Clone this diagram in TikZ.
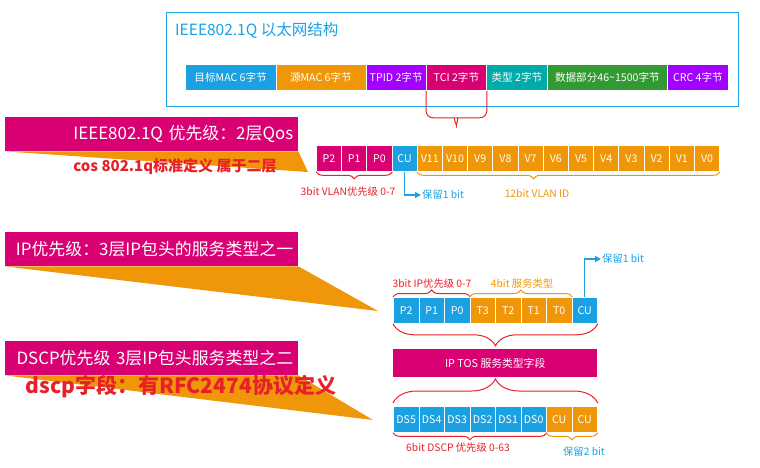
\documentclass[tikz,border=0pt]{standalone}
\usepackage{fontspec}
\setmainfont{Noto Sans CJK SC}
\usetikzlibrary{positioning,calc,decorations.pathreplacing,arrows.meta}
\definecolor{qmagenta}{HTML}{D80073}
\definecolor{qblue}{HTML}{1BA1E2}
\definecolor{qorange}{HTML}{F09609}
\definecolor{qpurple}{HTML}{A200FF}
\definecolor{qteal}{HTML}{00ABA9}
\definecolor{qgreen}{HTML}{339933}
\definecolor{qred}{HTML}{E8202A}
\tikzset{
    field/.style={draw=white, line width=0.8pt, fill=#1, text=white, minimum height=26pt, inner sep=0pt, anchor=north west, font=\fontsize{10.6}{12}\selectfont},
    banner/.style={fill=qmagenta, text=white, anchor=north west, minimum height=34pt, text width=283pt, inner xsep=5pt, inner ysep=0pt, align=right, font=\fontsize{16.9}{19}\selectfont},
    bitbrace/.style={draw=#1, line width=1pt, decorate, decoration={brace, amplitude=7pt}},
    note/.style={font=\fontsize{10.3}{12}\selectfont, inner sep=1pt},
    cuarrow/.style={draw=qblue, line width=1.2pt, -{Triangle[length=6pt,width=6pt]}},
}
\begin{document}
\begin{tikzpicture}[x=1pt,y=-1pt]
    \useasboundingbox (0,0) rectangle (760,467);
    % ethernet frame
    \node[draw=qblue, line width=1.2pt, minimum width=572pt, minimum height=94pt, anchor=north west] (frame) at (166,12) {};
    \node[anchor=west, text=qblue, inner sep=0pt, font=\fontsize{15.5}{18}\selectfont] (title) at (175,30) {IEEE802.1Q 以太网结构};
    \foreach \n/\x/\w/\c/\t in {fdst/185/90.5/qblue/目标MAC 6字节, fsrc/275.5/90/qorange/源MAC 6字节, ftpid/365.5/60.5/qpurple/TPID 2字节, ftci/426/60/qmagenta/TCI 2字节, ftype/486/61/qteal/类型 2字节, fdata/547/120/qgreen/数据部分46\textasciitilde1500字节, fcrc/667/61/qpurple/CRC 4字节} {
        \node[field=\c, minimum width=\w pt] (\n) at (\x,64) {\t};
    }
    \coordinate (tcitip) at ($(ftci.south)+(0,41)$);
    \draw[qred, line width=1pt, rounded corners=7pt]
        (ftci.south west) -- ++(0,27) -- ++(22,0) .. controls +(5,0) and +(0,-7) .. (tcitip)
        .. controls +(0,-7) and +(-5,0) .. ($(ftci.south east)+(-23,27)$) -- ++(23,0) -- (ftci.south east);

    % 802.1Q TCI
    \foreach \n/\t/\c [count=\i from 0] in {vp2/P2/qmagenta, vp1/P1/qmagenta, vp0/P0/qmagenta, vcu/CU/qblue, v11/V11/qorange, v10/V10/qorange, v9/V9/qorange, v8/V8/qorange, v7/V7/qorange, v6/V6/qorange, v5/V5/qorange, v4/V4/qorange, v3/V3/qorange, v2/V2/qorange, v1/V1/qorange, v0/V0/qorange} {
        \node[field=\c, minimum width=25.2pt] (\n) at (316+25.2*\i,145) {\t};
    }
    \draw[bitbrace=qred, decoration={mirror}] (vp2.south west) -- (vp0.south east);
    \draw[bitbrace=qorange, decoration={mirror, aspect=0.385}] (v11.south west) -- (v0.south east);
    \node[note, text=qred] (vlanpri) at (348,192) {3bit VLAN优先级 0-7};
    \node[note, text=qorange] (vlanid) at (537,193) {12bit VLAN ID};
    \node[note, text=qblue, anchor=west] (vres) at (421,195) {保留1 bit};
    \draw[cuarrow] (vcu.south) |- (vres.west);

    % IP precedence
    \foreach \n/\t/\c [count=\i from 0] in {ipp2/P2/qblue, ipp1/P1/qblue, ipp0/P0/qblue, ipt3/T3/qorange, ipt2/T2/qorange, ipt1/T1/qorange, ipt0/T0/qorange, ipcu/CU/qblue} {
        \node[field=\c, minimum width=25.5pt] (\n) at (393+25.5*\i,297) {\t};
    }
    \draw[bitbrace=qred] (ipp2.north west) -- (ipp0.north east);
    \draw[bitbrace=qorange] (ipt3.north west) -- (ipt0.north east);
    \node[note, text=qred] (ippri) at (432,284) {3bit IP优先级 0-7};
    \node[note, text=qorange] (iptos) at (522,284) {4bit 服务类型};
    \node[note, text=qblue, anchor=west] (ipres) at (601,259) {保留1 bit};
    \draw[cuarrow] (ipcu.north) |- (ipres.west);
    \draw[bitbrace=qred, decoration={mirror, amplitude=22pt}] (ipp2.south west) -- (ipcu.south east);

    \node[fill=qmagenta, text=white, minimum width=204pt, minimum height=28pt, inner sep=0pt, anchor=north west, font=\fontsize{10.8}{12}\selectfont] (tos) at (393,349) {IP TOS 服务类型字段};

    % DSCP
    \foreach \n/\t/\c [count=\i from 0] in {ds5/DS5/qblue, ds4/DS4/qblue, ds3/DS3/qblue, ds2/DS2/qblue, ds1/DS1/qblue, ds0/DS0/qblue, dscua/CU/qorange, dscub/CU/qorange} {
        \node[field=\c, minimum width=25.5pt] (\n) at (393+25.5*\i,406) {\t};
    }
    \draw[bitbrace=qred, decoration={amplitude=24pt, raise=3pt}] (ds5.north west) -- (dscub.north east);
    \draw[bitbrace=qred, decoration={mirror}] (ds5.south west) -- (ds0.south east);
    \draw[bitbrace=qorange, decoration={mirror}] (dscua.south west) -- (dscub.south east);
    \node[note, text=qred] (dspri) at (458,448) {6bit DSCP 优先级 0-63};
    \node[note, text=qblue] (dsres) at (584,452) {保留2 bit};

    % banners
    \node[banner] (b1) at (5,117) {IEEE802.1Q 优先级：2层Qos};
    \node[banner] (b2) at (5,232) {IP优先级：3层IP包头的服务类型之一};
    \node[banner] (b3) at (5,341) {DSCP优先级 3层IP包头服务类型之二};
    \coordinate (b1tip) at (308,172);
    \coordinate (b2tip) at (378,311);
    \coordinate (b3tip) at (373,420);
    \fill[qorange] (b1.south west) -- (b1.south east) -- (b1tip) -- cycle;
    \fill[qorange] (b2.south west) -- (b2.south east) -- (b2tip) -- cycle;
    \fill[qorange] (b3.south west) -- (b3.south east) -- (b3tip) -- cycle;
    \node[text=qred, font=\bfseries\fontsize{15}{18}\selectfont] (cos) at (175,167) {cos 802.1q标准定义 属于二层};
    \node[text=qred, font=\bfseries\fontsize{21}{24}\selectfont] (dscp) at (181,387) {dscp字段：有RFC2474协议定义};
\end{tikzpicture}
\end{document}
